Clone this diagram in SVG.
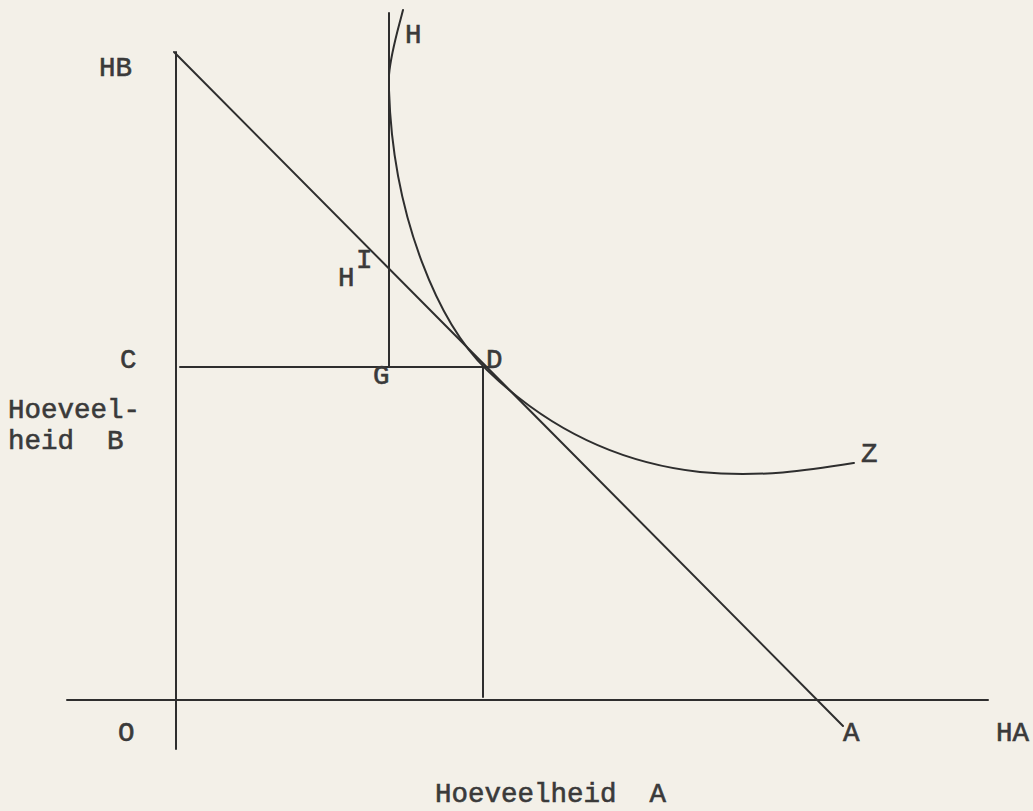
<svg xmlns="http://www.w3.org/2000/svg" width="1033" height="811" viewBox="0 0 1033 811">
<style>
.ln{stroke:#2e2e2e;stroke-width:2;fill:none;stroke-linecap:round}
.t{font-family:"Liberation Mono","Courier New",monospace;font-size:27.5px;fill:#3a3a3a;stroke:#3a3a3a;stroke-width:0.6}
</style>
<rect width="1033" height="811" fill="#f3f0e8"/>
<g id="connectors">
<line class="ln" x1="67" y1="700" x2="988" y2="700"/>
<line class="ln" x1="176" y1="52" x2="176" y2="749"/>
<line class="ln" x1="174" y1="52" x2="843" y2="726"/>
<line class="ln" x1="180" y1="367" x2="489" y2="367"/>
<line class="ln" x1="389" y1="13" x2="389" y2="367"/>
<line class="ln" x1="483" y1="367" x2="483" y2="697"/>
<path class="ln" d="M403,10 C398,30 391,52 389,75 L389,90 C393,220 440,325 487,370 C520,402 590,460 700,472 C760,478 810,470 854,463"/>
</g>
<g id="HB"><text class="t" x="99" y="76">HB</text></g>
<g id="H"><text class="t" x="405" y="43">H</text></g>
<g id="HI"><text class="t" x="338" y="286">H</text><text class="t" x="356" y="268">I</text></g>
<g id="C"><text class="t" x="120" y="368">C</text></g>
<g id="G"><text class="t" x="373" y="384">G</text></g>
<g id="D"><text class="t" x="486" y="368">D</text></g>
<g id="HoeveelheidB"><text class="t" x="8" y="418">Hoeveel-</text><text class="t" x="8" y="449" xml:space="preserve">heid  B</text></g>
<g id="Z"><text class="t" x="861" y="462">Z</text></g>
<g id="O"><text class="t" x="118" y="741">O</text></g>
<g id="A"><text class="t" x="843" y="741">A</text></g>
<g id="HA"><text class="t" x="996" y="741">HA</text></g>
<g id="HoeveelheidA"><text class="t" x="435" y="802" xml:space="preserve">Hoeveelheid  A</text></g>
</svg>
